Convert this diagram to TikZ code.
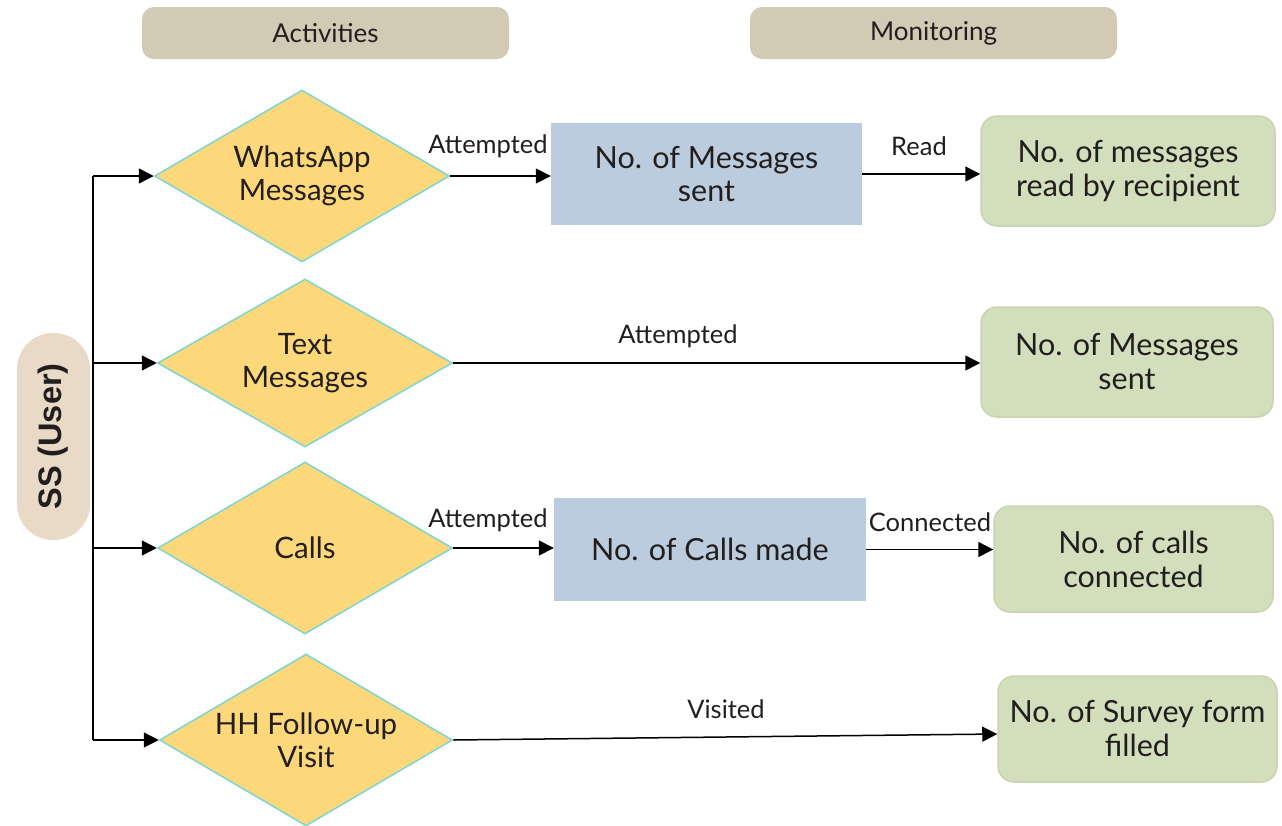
\documentclass[tikz,border=0pt]{standalone}
\usepackage{fontspec}
\setmainfont{Lato}
\newfontfamily\ssfont{Liberation Sans}
\usetikzlibrary{shapes.geometric,arrows.meta,calc}
\definecolor{dyellow}{RGB}{252,216,122}
\definecolor{dborder}{RGB}{125,212,212}
\definecolor{bbox}{RGB}{186,204,222}
\definecolor{gbox}{RGB}{211,223,188}
\definecolor{gborder}{RGB}{200,212,176}
\definecolor{hbox}{RGB}{211,202,182}
\definecolor{pill}{RGB}{232,218,198}
\definecolor{txt}{RGB}{35,30,30}
\begin{document}
\begin{tikzpicture}[x=1pt,y=-1pt,
  diam/.style={diamond, draw=dborder, line width=1.5pt, fill=dyellow, aspect=1.7,
    minimum width=295pt, minimum height=172pt, inner sep=0pt, align=center,
    text=txt, font=\fontsize{29.5}{33}\selectfont},
  bluebox/.style={rectangle, fill=bbox, inner sep=0pt, align=center, text=txt,
    font=\fontsize{30.5}{33}\selectfont},
  greenbox/.style={rectangle, rounded corners=16pt, fill=gbox, draw=gborder, line width=1.5pt,
    inner sep=0pt, align=center, text=txt, font=\fontsize{30.5}{34}\selectfont},
  hdr/.style={rectangle, rounded corners=12pt, fill=hbox, minimum width=367pt, minimum height=52pt,
    inner sep=0pt, text=txt, font=\fontsize{26}{30}\selectfont},
  conn/.style={line width=1.5pt, draw=black, -{Triangle[length=15pt,width=15pt]}},
  lbl/.style={inner sep=0pt, text=txt, font=\fontsize{25.5}{29}\selectfont}
]
\useasboundingbox (0,0) rectangle (1282,825);

% headers
\node[hdr] (hact) at (325.5,33) {Activities};
\node[hdr] (hmon) at (933.5,33) {Monitoring};

% user pill
\node[rectangle, rounded corners=36pt, fill=pill, minimum width=73pt, minimum height=207pt, inner sep=0pt] (ss) at (53.5,436.5) {};
\node[rotate=90, text=txt, font=\ssfont\bfseries\fontsize{32.5}{36}\selectfont] (sst) at (ss.center) {SS (User)};

% diamonds
\node[diam] (wa) at (302,176) {WhatsApp\\Messages};
\node[diam, minimum height=168pt] (tm) at (305,363) {Text\\Messages};
\node[diam] (ca) at (305,548) {Calls};
\node[diam, minimum width=293pt] (hh) at (306,740) {HH Follow-up\\Visit};

% blue boxes
\node[bluebox, minimum width=311pt, minimum height=102pt] (b1) at (706.5,174) {No. of Messages\\sent};
\node[bluebox, minimum width=312pt, minimum height=103pt] (b2) at (710,549.5) {No. of Calls made};

% green boxes
\node[greenbox, minimum width=294pt, minimum height=110pt] (g1) at (1128,171) {No. of messages\\read by recipient};
\node[greenbox, minimum width=292pt, minimum height=110pt] (g2) at (1127,362) {No. of Messages\\sent};
\node[greenbox, minimum width=279pt, minimum height=106pt] (g3) at (1133.5,559) {No. of calls\\connected};
\node[greenbox, minimum width=279pt, minimum height=106pt] (g4) at (1137.5,729) {No. of Survey form\\filled};

% vertical connector from user
\coordinate (v1) at (93,176);
\coordinate (v2) at (93,363);
\coordinate (v3) at (93,548);
\coordinate (v4) at (93,740);
\draw[line width=1.5pt] (v1) -- (v4);
\draw[conn] (v1) -- (wa.west);
\draw[conn] (v2) -- (tm.west);
\draw[conn] (v3) -- (ca.west);
\draw[conn] (v4) -- (hh.west);

% right-side connectors
\draw[conn] (wa.east) -- (wa.east -| b1.west);
\draw[conn] (b1.east) -- (b1.east -| g1.west);
\draw[conn] (tm.east) -- (tm.east -| g2.west);
\draw[conn] (ca.east) -- (ca.east -| b2.west);
\draw[conn] (b2.east) -- (b2.east -| g3.west);
\coordinate (g4in) at ($(g4.west)+(0,5)$);
\draw[conn] (hh.east) -- (g4in);

% labels
\node[lbl] (l1) at (488,146) {Attempted};
\node[lbl] (l2) at (919,146) {Read};
\node[lbl] (l3) at (678,336) {Attempted};
\node[lbl] (l4) at (488,520) {Attempted};
\node[lbl] (l5) at (930,522) {Connected};
\node[lbl] (l6) at (726,709) {Visited};
\end{tikzpicture}
\end{document}
